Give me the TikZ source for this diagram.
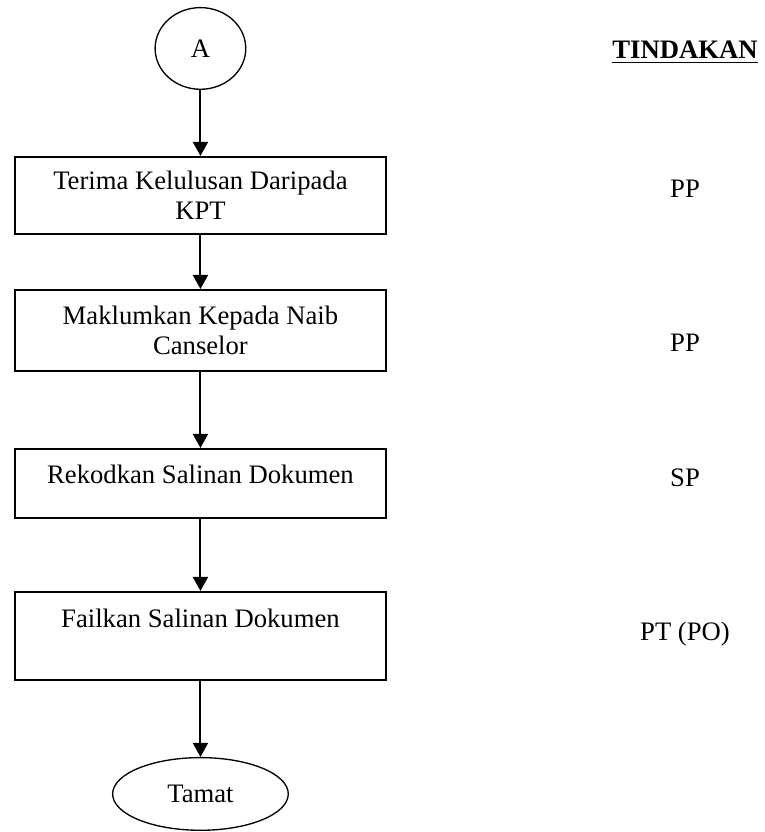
\documentclass[tikz,border=0pt]{standalone}
\usepackage{fontspec}
\setmainfont{Liberation Serif}
\usetikzlibrary{shapes.geometric, arrows.meta, positioning}

\begin{document}
\begin{tikzpicture}[
    node distance=24.3pt,
    flowbox/.style={rectangle, draw, line width=0.8pt, minimum width=167pt, align=center, font=\fontsize{12pt}{13.6pt}\selectfont, inner sep=2pt},
    term/.style={ellipse, draw, line width=0.6pt, inner sep=0pt, font=\fontsize{12pt}{13.6pt}\selectfont},
    act/.style={anchor=base, font=\fontsize{12pt}{13.6pt}\selectfont},
    flow/.style={line width=0.9pt, -{Triangle[width=6.75pt,length=6.3pt]}}
]
    \useasboundingbox (0,0) rectangle (343.8pt,-374.4pt);

    \node[term, minimum width=40.8pt, minimum height=36.75pt] (mula) at (90.2pt,-21.8pt) {A};
    \node[flowbox, minimum height=34.75pt, below=29.7pt of mula] (terima) {Terima Kelulusan Daripada\\KPT};
    \node[flowbox, minimum height=36.55pt, below=24.3pt of terima] (maklum) {Maklumkan Kepada Naib\\Canselor};
    \node[flowbox, minimum height=31.15pt, text depth=8.2pt, below=34.2pt of maklum] (rekod) {Rekodkan Salinan Dokumen};
    \node[flowbox, minimum height=39.7pt, text depth=16.3pt, below=32.4pt of rekod] (fail) {Failkan Salinan Dokumen};
    \node[term, minimum width=79.05pt, minimum height=32.7pt, below=34.2pt of fail] (tamat) {Tamat};

    \node[act] (tindakan) at (308.25pt,-26.55pt) {\underline{\textbf{TINDAKAN}}};
    \node[act] (pp1) at (308.25pt,-88.65pt) {PP};
    \node[act] (pp2) at (308.25pt,-157.95pt) {PP};
    \node[act] (sp) at (308.25pt,-218.7pt) {SP};
    \node[act] (pt) at (308.25pt,-288pt) {PT (PO)};

    \draw[flow] (mula) -- (terima);
    \draw[flow] (terima) -- (maklum);
    \draw[flow] (maklum) -- (rekod);
    \draw[flow] (rekod) -- (fail);
    \draw[flow] (fail) -- (tamat);
\end{tikzpicture}
\end{document}
